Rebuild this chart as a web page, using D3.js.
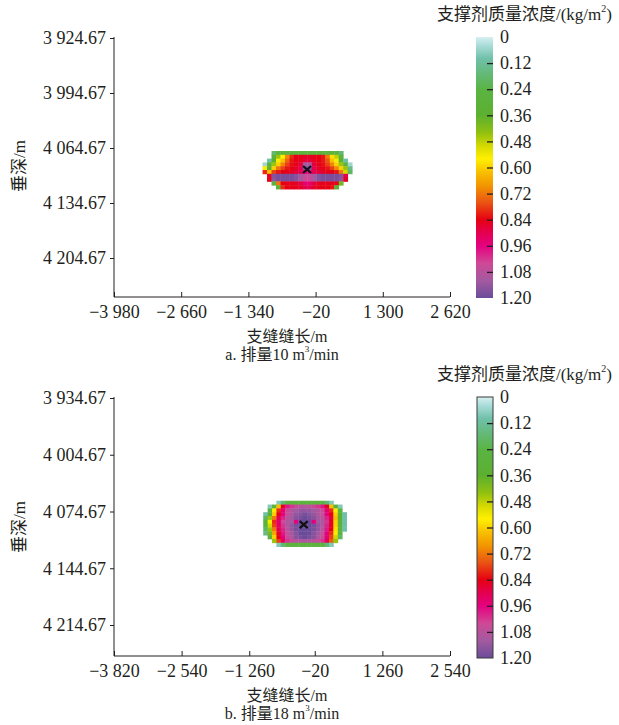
<!DOCTYPE html>
<html><head><meta charset="utf-8">
<script src="https://cdn.jsdelivr.net/npm/d3@7/dist/d3.min.js"></script>
<style>body{margin:0;background:#fff}svg{display:block}</style>
</head><body>
<svg id="c" width="619" height="725"></svg>
<script>
// ---------- data ----------
const colorStops = [0, 0.04, 0.10, 0.18, 0.24, 0.36, 0.44, 0.50, 0.56, 0.62, 0.68, 0.76, 0.84, 0.90, 0.96, 1.04, 1.12, 1.20];
const colorHex   = ["#d6f0f0","#a8dcd8","#6fc0a8","#62b870","#5ab443","#5cb030","#90c010","#d4d800","#fff000","#f8c000","#f39800","#ea5514","#e60012","#e4004f","#e4007f","#d04896","#a35aa0","#6b4c9a"];
const cbTicks = [0, 0.12, 0.24, 0.36, 0.48, 0.60, 0.72, 0.84, 0.96, 1.08, 1.20];

const xTicksA = [-3980, -2660, -1340, -20, 1300, 2620];
const yTicksA = [3924.67, 3994.67, 4064.67, 4134.67, 4204.67];
const xTicksB = [-3820, -2540, -1260, -20, 1260, 2540];
const yTicksB = [3934.67, 4004.67, 4074.67, 4144.67, 4214.67];

// grid origin / step (m) for each concentration field
const gridAX = [-1062, 88];
const gridAY = [4068.5, 4.84];
const gridBX = [-995, 83];
const gridBY = [4061.4, 4.71];
const wellA = [-187, 4092];
const wellB = [-229, 4090.8];

const n = null;
const valuesA = [
 [n,n,0.18,0.28,0.28,0.28,0.28,0.28,0.28,0.28,0.28,0.28,0.28,0.28,0.28,0.28,0.28,0.18,n,n],
 [n,n,0.3,0.45,0.56,0.7,0.8,0.84,0.85,0.86,0.86,0.85,0.84,0.82,0.72,0.58,0.48,0.3,n,n],
 [n,0.1,0.36,0.55,0.62,0.74,0.82,0.84,0.85,0.88,0.88,0.85,0.84,0.82,0.76,0.62,0.55,0.36,0.1,n],
 [0.05,0.3,0.45,0.6,0.7,0.78,0.83,0.85,0.88,1.12,1.12,0.88,0.85,0.83,0.78,0.7,0.6,0.45,0.3,0.05],
 [0.55,0.35,0.6,0.72,0.78,0.82,0.84,0.86,0.9,1.18,1.18,0.9,0.86,0.84,0.82,0.78,0.7,0.6,0.45,0.15],
 [0.8,0.62,0.78,0.82,0.84,0.85,0.86,0.88,0.9,0.96,0.96,0.9,0.88,0.86,0.85,0.84,0.82,0.72,0.5,0.2],
 [n,0.86,1.16,1.18,1.18,1.18,1.18,1.16,1.12,1.06,1.06,1.12,1.16,1.18,1.18,1.18,1.18,1.16,0.9,n],
 [n,0.84,1.15,1.18,1.18,1.18,1.18,1.16,1.12,1.04,1.04,1.12,1.16,1.18,1.18,1.18,1.18,1.15,0.86,n],
 [n,n,0.3,0.72,0.84,0.85,0.85,0.86,0.88,0.94,0.94,0.88,0.86,0.85,0.85,0.85,0.84,0.4,n,n],
 [n,n,n,0.3,0.8,0.84,0.84,0.85,0.86,0.9,0.9,0.86,0.85,0.84,0.84,0.82,0.35,n,n,n]
];
const valuesB = [
 [n,n,n,0.08,0.18,0.26,0.28,0.28,0.28,0.28,0.28,0.28,0.28,0.26,0.18,0.08,n,n,n],
 [n,0.08,0.3,0.62,0.86,0.98,1.02,1.05,1.08,1.08,1.08,1.05,1.02,0.98,0.86,0.62,0.3,0.08,n],
 [n,0.25,0.55,0.8,0.95,1.05,1.1,1.12,1.14,1.14,1.14,1.12,1.1,1.05,0.95,0.8,0.55,0.25,n],
 [0.1,0.35,0.6,0.84,0.96,1.06,1.1,1.14,1.16,1.18,1.16,1.14,1.1,1.06,0.96,0.84,0.6,0.35,0.1],
 [0.2,0.45,0.72,0.9,1.0,1.08,1.12,1.16,1.18,1.2,1.18,1.16,1.12,1.08,1.0,0.88,0.62,0.35,0.1],
 [0.3,0.55,0.8,0.94,1.04,1.1,1.12,0.96,1.2,1.2,1.2,0.96,1.12,1.1,1.02,0.86,0.6,0.3,0.1],
 [0.25,0.5,0.78,0.92,1.02,1.1,1.14,1.18,1.2,1.2,1.2,1.18,1.14,1.1,1.0,0.86,0.6,0.3,0.1],
 [0.2,0.45,0.72,0.9,1.0,1.08,1.14,1.18,1.2,1.2,1.2,1.18,1.14,1.08,0.98,0.84,0.58,0.3,0.1],
 [0.15,0.4,0.66,0.86,0.98,1.06,1.12,1.16,1.2,1.2,1.2,1.16,1.12,1.06,0.96,0.8,0.55,0.25,n],
 [n,0.3,0.6,0.84,0.96,1.05,1.1,1.16,1.18,1.2,1.18,1.16,1.1,1.05,0.95,0.78,0.5,0.2,n],
 [n,n,0.45,0.78,0.92,1.02,1.06,1.08,1.1,1.1,1.1,1.08,1.06,1.02,0.92,0.75,0.45,n,n],
 [n,n,n,0.08,0.18,0.26,0.28,0.28,0.28,0.28,0.28,0.28,0.28,0.26,0.18,0.08,n,n,n]
];

// ---------- drawing ----------
const svg = d3.select("#c");
const INK = "#231f20";
const SERIF = "'Liberation Serif','Times New Roman',serif";
const CJK = "'Liberation Serif','Noto Sans CJK SC',serif";
const color = d3.scaleLinear().domain(colorStops).range(colorHex).interpolate(d3.interpolateRgb).clamp(true);

const defs = svg.append("defs");
defs.append("filter").attr("id","soft").attr("x","-5%").attr("y","-5%").attr("width","110%").attr("height","110%")
  .append("feGaussianBlur").attr("stdDeviation", 0.7);
const grad = defs.append("linearGradient").attr("id","cbgrad").attr("x1",0).attr("y1",0).attr("x2",0).attr("y2",1);
colorStops.forEach((s,i)=>grad.append("stop").attr("offset", s/1.2).attr("stop-color", colorHex[i]));

const fmtNum = v => {
  const neg = v < 0;
  let s = Math.abs(v).toFixed(Number.isInteger(v) ? 0 : 2);
  let [ip, dp] = s.split(".");
  ip = ip.replace(/\B(?=(\d{3})+(?!\d))/g, " ");
  return (neg ? "\u2212" : "") + ip + (dp ? "." + dp : "");
};

function panel(o) {
  const g = svg.append("g");
  const x = d3.scaleLinear().domain([o.xTicks[0], o.xTicks[o.xTicks.length-1]]).range([o.left, o.right]);
  const y = d3.scaleLinear().domain([o.yTicks[0], o.yTicks[o.yTicks.length-1]]).range([o.yTop, o.yLast]);

  // heatmap cells
  const cells = [];
  o.values.forEach((row, r) => row.forEach((v, c) => { if (v !== null) cells.push({r, c, v}); }));
  const hm = g.append("g").attr("filter","url(#soft)");
  hm.selectAll("rect").data(cells).join("rect")
    .attr("x", d => x(o.gx[0] + d.c*o.gx[1]))
    .attr("width", d => x(o.gx[0] + (d.c+1)*o.gx[1]) - x(o.gx[0] + d.c*o.gx[1]) + 0.4)
    .attr("y", d => y(o.gy[0] + d.r*o.gy[1]))
    .attr("height", d => y(o.gy[0] + (d.r+1)*o.gy[1]) - y(o.gy[0] + d.r*o.gy[1]) + 0.4)
    .attr("fill", d => color(d.v));

  // well marker
  const wx = x(o.well[0]), wy = y(o.well[1]);
  g.append("path").attr("d", `M${wx-4},${wy-3.5}L${wx+4},${wy+3.5}M${wx-4},${wy+3.5}L${wx+4},${wy-3.5}`)
    .attr("stroke", "#111").attr("stroke-width", 2.2).attr("fill","none");

  // axes
  const ya = g.append("g").attr("transform", `translate(${o.left},0)`)
    .call(d3.axisLeft(y).tickValues(o.yTicks).tickSize(4).tickPadding(4).tickFormat(fmtNum));
  ya.select(".domain").remove();
  const xa = g.append("g").attr("transform", `translate(0,${o.bottom})`)
    .call(d3.axisBottom(x).tickValues(o.xTicks).tickSizeInner(-5).tickSizeOuter(0).tickPadding(8).tickFormat(fmtNum));
  xa.select(".domain").remove();
  [ya, xa].forEach(a => {
    a.selectAll("line").attr("stroke", INK);
    a.selectAll("text").attr("fill", INK).style("font-family", SERIF).style("font-size", "18px");
  });
  g.append("path").attr("d", `M${o.left},${o.axTop}V${o.bottom}H${o.right}`)
    .attr("fill","none").attr("stroke", INK).attr("stroke-width", 1);

  // axis titles
  g.append("text").attr("transform", `translate(${o.yLabX},${o.yLabY}) rotate(-90)`)
    .attr("text-anchor","middle").attr("dominant-baseline","central")
    .style("font-family", CJK).style("font-size","17px").attr("fill", INK).text("垂深/m");
  g.append("text").attr("x", 287).attr("y", o.bottom + 39).attr("text-anchor","middle").attr("dominant-baseline","central")
    .style("font-family", CJK).style("font-size","16px").attr("fill", INK).text("支缝缝长/m");
  const cap = g.append("text").attr("x", 282).attr("y", o.bottom + 57).attr("text-anchor","middle").attr("dominant-baseline","central")
    .style("font-family", CJK).style("font-size","16px").attr("fill", INK);
  cap.append("tspan").text(o.caption[0]);
  cap.append("tspan").attr("dy", -5).style("font-size","9px").text("3");
  cap.append("tspan").attr("dy", 5).text("/min");

  // colorbar
  const cb = d3.scaleLinear().domain([0, 1.2]).range([o.cbTop, o.cbBottom]);
  g.append("rect").attr("x", o.cbX).attr("y", o.cbTop).attr("width", o.cbW).attr("height", o.cbBottom - o.cbTop)
    .attr("fill", "url(#cbgrad)").attr("stroke", o.cbStroke ? "#3a3a3a" : "none").attr("stroke-width", 1);
  const ca = g.append("g").attr("transform", `translate(${o.cbX + o.cbW},0)`)
    .call(d3.axisRight(cb).tickValues(cbTicks).tickSizeInner(-6).tickSizeOuter(0).tickPadding(7)
      .tickFormat(v => v === 0 ? "0" : v.toFixed(2)));
  ca.select(".domain").remove();
  ca.selectAll(".tick line").attr("stroke", INK).attr("stroke-width", 1.3)
    .attr("display", d => (d === 0 || d === 1.2) ? "none" : null);
  ca.selectAll("text").attr("fill", INK).style("font-family", SERIF).style("font-size", "18px");

  const t = g.append("text").attr("x", 612).attr("y", o.cbTop - 23).attr("text-anchor","end").attr("dominant-baseline","central")
    .style("font-family", CJK).style("font-size","17px").attr("fill", INK);
  t.append("tspan").text("支撑剂质量浓度/(kg/m");
  t.append("tspan").attr("dy", -6).style("font-size","10px").text("2");
  t.append("tspan").attr("dy", 6).text(")");
}

panel({ xTicks: xTicksA, yTicks: yTicksA, values: valuesA, gx: gridAX, gy: gridAY, well: wellA,
  left: 114, right: 450, yTop: 38, yLast: 258, axTop: 37, bottom: 297,
  yLabX: 19, yLabY: 166, caption: ["a. 排量10 m"],
  cbX: 476, cbW: 17, cbTop: 37, cbBottom: 298, cbStroke: false });

panel({ xTicks: xTicksB, yTicks: yTicksB, values: valuesB, gx: gridBX, gy: gridBY, well: wellB,
  left: 114, right: 450, yTop: 398, yLast: 625, axTop: 397, bottom: 656,
  yLabX: 19, yLabY: 527, caption: ["b. 排量18 m"],
  cbX: 477, cbW: 16, cbTop: 397, cbBottom: 658, cbStroke: true });
</script>
</body></html>
